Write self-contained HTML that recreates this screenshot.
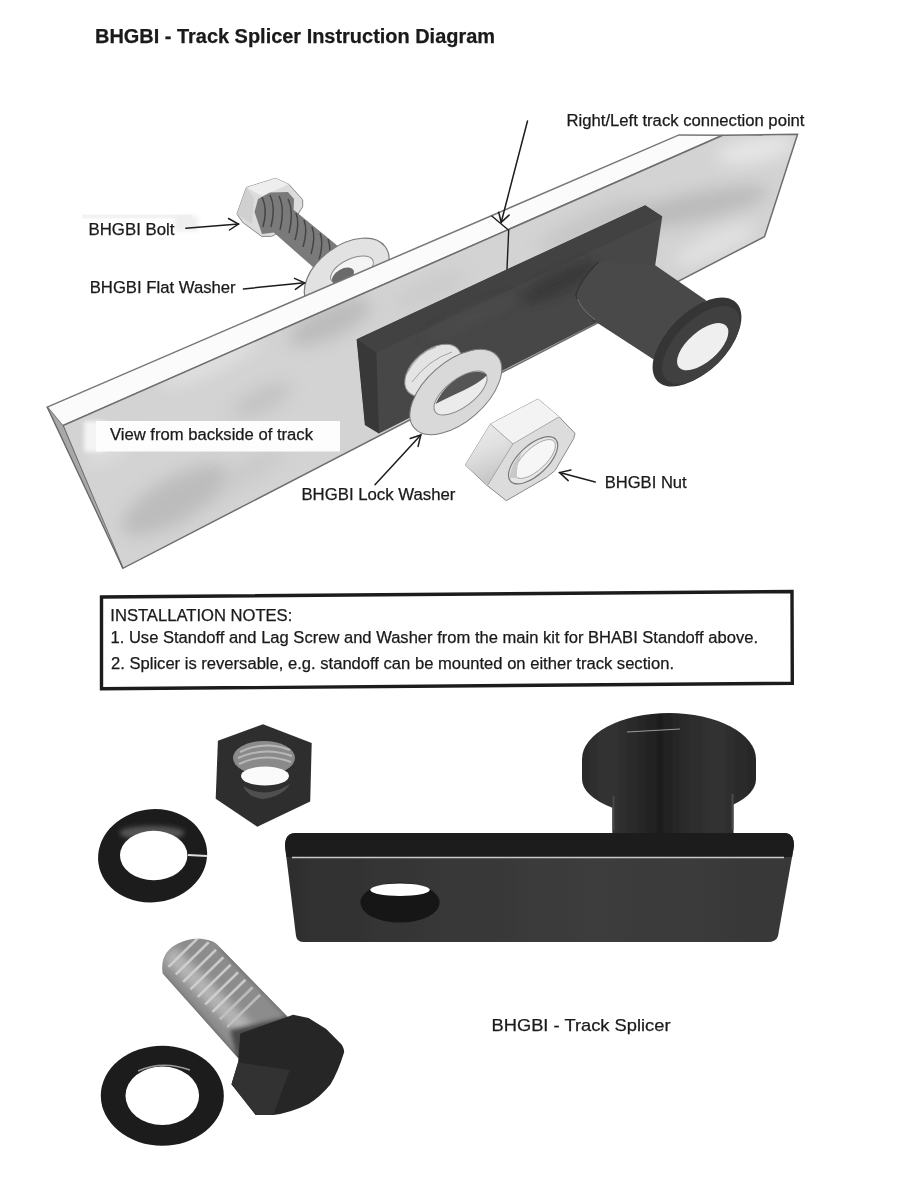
<!DOCTYPE html>
<html><head><meta charset="utf-8">
<style>
html,body{margin:0;padding:0;background:#fff;}
body{width:908px;height:1184px;overflow:hidden;position:relative;}
svg{position:absolute;left:0;top:0;}
text{font-family:"Liberation Sans",sans-serif;fill:#1a1a1a;stroke:#1a1a1a;stroke-width:0.25px;}
</style></head><body>
<svg width="908" height="1184" viewBox="0 0 908 1184">
<defs>
  <filter id="soft2" x="0" y="0" width="908" height="1184" filterUnits="userSpaceOnUse"><feGaussianBlur stdDeviation="0.45"/></filter>
  <filter id="soft" x="-5%" y="-5%" width="110%" height="110%"><feGaussianBlur stdDeviation="0.6"/></filter>
  <filter id="b1" x="-20%" y="-20%" width="140%" height="140%"><feGaussianBlur stdDeviation="0.7"/></filter>
  <filter id="b2" x="-50%" y="-50%" width="200%" height="200%"><feGaussianBlur stdDeviation="2"/></filter>
  <filter id="b4" x="-50%" y="-50%" width="200%" height="200%"><feGaussianBlur stdDeviation="4"/></filter>
  <filter id="b8" x="-50%" y="-50%" width="200%" height="200%"><feGaussianBlur stdDeviation="8"/></filter>

<clipPath id="faceClip"><polygon points="63.0,425.6 722.7,135.3 797.6,134.2 764.5,236.7 122.9,568.3"/></clipPath>
<clipPath id="barClip"><polygon points="356.6,339.2 645.2,205.2 662.2,216.6 655.2,265.2 598.4,321.7 378.9,433.4 364.9,425.1"/></clipPath>
<clipPath id="photoBarClip"><path d="M296,833 L786,833 Q794,834 794,846 L778,936 Q776,942 768,942 L304,942 Q297,942 296,936 L285,846 Q285,833 296,833 Z"/></clipPath>
<clipPath id="flangeClip"><ellipse cx="669" cy="759" rx="87" ry="46"/><ellipse cx="669" cy="779" rx="87" ry="38"/><rect x="582" y="759" width="174" height="20"/><rect x="612.3" y="790" width="121.2" height="50"/></clipPath>
<linearGradient id="nutLeftGrad" x1="0" y1="0" x2="0.3" y2="1"><stop offset="0" stop-color="#ececec"/><stop offset="0.5" stop-color="#e0e0e0"/><stop offset="1" stop-color="#c6c6c6"/></linearGradient>
<linearGradient id="barGrad" x1="0" y1="0" x2="1" y2="0"><stop offset="0" stop-color="#2e2e2e"/><stop offset="0.25" stop-color="#363636"/><stop offset="0.6" stop-color="#3c3c3c"/><stop offset="1" stop-color="#383838"/></linearGradient>
<linearGradient id="flGrad" x1="582" y1="0" x2="756" y2="0" gradientUnits="userSpaceOnUse"><stop offset="0" stop-color="#2a2a2a"/><stop offset="0.15" stop-color="#333"/><stop offset="0.3" stop-color="#2a2a2a"/><stop offset="0.45" stop-color="#1e1e1e"/><stop offset="0.6" stop-color="#2c2c2c"/><stop offset="0.78" stop-color="#323232"/><stop offset="1" stop-color="#262626"/></linearGradient>
</defs>
<g filter="url(#soft2)">
<g id="bolt">
  <polygon points="236.9,214 246.4,187.4 275.6,178.3 288.8,184.3 302.7,199.7 302.7,206.7 290.4,226.5 271.6,236.4 261.7,236.4 242.8,222.5" fill="#dcdcdc" stroke="#8a8a8a" stroke-width="1"/>
  <polygon points="246.4,187.4 275.6,178.3 288.8,184.3 262,196" fill="#eeeeee"/>
  <polygon points="236.9,214 246.4,187.4 254,198 252,224" fill="#d0d0d0"/>
  <polygon points="254.5,212 258,199 270,192.5 288,192 294,199 293.6,209.8 337.2,245.5 314.4,268.3 273.8,232.6 262,234" fill="#7a7a7a"/>
  <g stroke="#404040" stroke-width="1.5" fill="none" opacity="0.9">
    <path d="M262,197 q6,12 1,30"/><path d="M270,195 q6,12 1,32"/><path d="M279,196 q6,12 1,34"/>
    <path d="M288,199 q6,12 1,34"/><path d="M296,213 q4,10 -1,27"/><path d="M304,220 q4,10 -1,27"/><path d="M312,227 q4,10 -1,27"/>
    <path d="M320,233 q4,10 -1,27"/><path d="M328,239 q4,10 -1,25"/>
  </g>
</g>
<g id="washer">
<ellipse cx="346.7" cy="275.0" rx="47.8" ry="29.4" transform="rotate(-36.2 346.7 275.0)" fill="#e2e2e2" stroke="#7a7a7a" stroke-width="1.2"/>
<ellipse cx="352.0" cy="270.0" rx="23.0" ry="11.0" transform="rotate(-25.0 352.0 270.0)" fill="#f4f4f4" stroke="#8a8a8a" stroke-width="1"/>
<ellipse cx="343.0" cy="276.0" rx="12.0" ry="7.0" transform="rotate(-30.0 343.0 276.0)" fill="#6a6a6a" />
</g>
<g id="track">
<polygon points="47.2,407.1 679.0,134.9 722.7,135.3 62.6,425.8" fill="#fbfbfb" stroke="#777" stroke-width="1.5"/>
<polygon points="63.0,425.6 722.7,135.3 797.6,134.2 764.5,236.7 122.9,568.3" fill="#d3d3d3"/>
<g clip-path="url(#faceClip)">
<ellipse cx="330.0" cy="322.0" rx="45.0" ry="16.0" transform="rotate(-25.0 330.0 322.0)" fill="#b9b9b9" filter="url(#b8)" opacity="0.90"/>
<ellipse cx="175.0" cy="500.0" rx="60.0" ry="22.0" transform="rotate(-30.0 175.0 500.0)" fill="#bababa" filter="url(#b8)" opacity="0.90"/>
<ellipse cx="262.0" cy="400.0" rx="32.0" ry="12.0" transform="rotate(-25.0 262.0 400.0)" fill="#c0c0c0" filter="url(#b8)" opacity="0.80"/>
<ellipse cx="210.0" cy="362.0" rx="55.0" ry="12.0" transform="rotate(-25.0 210.0 362.0)" fill="#e2e2e2" filter="url(#b8)" opacity="0.80"/>
<ellipse cx="110.0" cy="450.0" rx="30.0" ry="10.0" transform="rotate(-30.0 110.0 450.0)" fill="#e0e0e0" filter="url(#b8)" opacity="0.70"/>
<ellipse cx="690.0" cy="208.0" rx="80.0" ry="14.0" transform="rotate(-12.0 690.0 208.0)" fill="#b8b8b8" filter="url(#b8)" opacity="0.90"/>
<ellipse cx="590.0" cy="226.0" rx="55.0" ry="12.0" transform="rotate(-25.0 590.0 226.0)" fill="#c2c2c2" filter="url(#b8)" opacity="0.80"/>
<ellipse cx="755.0" cy="150.0" rx="40.0" ry="12.0" transform="rotate(-10.0 755.0 150.0)" fill="#e6e6e6" filter="url(#b8)" opacity="1.00"/>
<ellipse cx="715.0" cy="245.0" rx="45.0" ry="12.0" transform="rotate(-25.0 715.0 245.0)" fill="#e2e2e2" filter="url(#b8)" opacity="0.90"/>
<ellipse cx="430.0" cy="290.0" rx="40.0" ry="10.0" transform="rotate(-25.0 430.0 290.0)" fill="#c8c8c8" filter="url(#b8)" opacity="0.70"/>
<ellipse cx="250.0" cy="470.0" rx="40.0" ry="10.0" transform="rotate(-30.0 250.0 470.0)" fill="#c6c6c6" filter="url(#b8)" opacity="0.70"/>
</g>
<polygon points="63.0,425.6 722.7,135.3 797.6,134.2 764.5,236.7 122.9,568.3" fill="none" stroke="#6e6e6e" stroke-width="1.5"/>
<polygon points="47.2,407.1 62.6,425.8 122.9,568.3" fill="#a8a8a8"/>
<line x1="47.2" y1="407.1" x2="122.9" y2="568.3" stroke="#666" stroke-width="1.3"/>
<polyline points="491.5,215.8 508.7,230.2 506.9,271.5" fill="none" stroke="#1c1c1c" stroke-width="1.4"/>
</g>
<rect x="84" y="421" width="20" height="31" fill="#f8f8f8" filter="url(#b2)" opacity="0.9"/>
<rect x="96" y="421" width="244" height="30.5" fill="#fdfdfd" filter="url(#b1)"/>
<rect x="82" y="214.5" width="110" height="4" fill="#f3f3f3" filter="url(#b1)"/>
<rect x="174" y="216" width="24" height="15" fill="#ebebeb" filter="url(#b2)" opacity="0.8"/>
<g id="bar">
<polygon points="356.6,339.2 645.2,205.2 662.2,216.6 655.2,265.2 598.4,321.7 378.9,433.4 364.9,425.1" fill="#464646"/>
<g clip-path="url(#barClip)">
<polygon points="356.6,339.2 645.2,205.2 664.2,216.6 376.4,352.4" fill="#424242"/>
<polygon points="356.6,339.2 376.4,352.4 378.9,433.4 364.9,425.1" fill="#383838"/>
<ellipse cx="470.0" cy="318.0" rx="50.0" ry="8.0" transform="rotate(-25.0 470.0 318.0)" fill="#505050" filter="url(#b4)" opacity="0.6"/>
<ellipse cx="560.0" cy="282.0" rx="40.0" ry="10.0" transform="rotate(-27.0 560.0 282.0)" fill="#363636" filter="url(#b4)" opacity="0.7"/>
</g>
<path d="M598.8,261.7 L655.2,265.2 L706.3,300.5 L655.2,360.4 L595.2,321.6 Q578,305 575.9,295.2 Q580,280 598.8,261.7 Z" fill="#4a4a4a"/>
<path d="M598.8,261.7 Q580,280 575.9,295.2 Q578,305 595.2,321.6" fill="none" stroke="#343434" stroke-width="1.5"/>
<path d="M577.5,299 Q582,310 595,320" fill="none" stroke="#6a6a6a" stroke-width="1.2"/>
<ellipse cx="697.0" cy="342.1" rx="55.6" ry="29.4" transform="rotate(-45.1 697.0 342.1)" fill="#363636" />
<ellipse cx="701.0" cy="345.0" rx="49.0" ry="25.0" transform="rotate(-45.0 701.0 345.0)" fill="#404040" />
<ellipse cx="702.7" cy="346.7" rx="31.5" ry="15.0" transform="rotate(-41.2 702.7 346.7)" fill="#efefef" />
</g>
<g id="lockwasher">
<ellipse cx="433.1" cy="370.4" rx="32.9" ry="20.1" transform="rotate(-39.7 433.1 370.4)" fill="#e4e4e4" stroke="#8a8a8a" stroke-width="1"/>
<path d="M406,375 Q418,352 436,347" fill="none" stroke="#9a9a9a" stroke-width="0.9"/>
<path d="M412,382 Q428,360 452,352" fill="none" stroke="#9a9a9a" stroke-width="0.9"/>
<ellipse cx="455.8" cy="392.0" rx="55.0" ry="30.0" transform="rotate(-41.1 455.8 392.0)" fill="#d9d9d9" stroke="#7a7a7a" stroke-width="1"/>
<ellipse cx="460.5" cy="393.0" rx="31.5" ry="14.0" transform="rotate(-37.0 460.5 393.0)" fill="#ebebeb" stroke="#8a8a8a" stroke-width="1"/>
<path d="M435.5,404 Q445,383 466,374 Q480,369 487,375 Q480,383 458,393 Q445,399 435.5,404 Z" fill="#555"/>
</g>
<g id="nut">
<polygon points="465.3,465.0 490.4,424.1 538.0,399.0 559.1,416.8 575.0,433.3 573.7,438.6 555.2,470.3 547.2,476.9 506.3,500.7 486.4,484.9" fill="#dcdcdc" stroke="#8a8a8a" stroke-width="1"/>
<polygon points="490.4,424.1 538.0,399.0 559.1,416.8 512.9,443.9" fill="#f3f3f3"/>
<polygon points="465.3,465.0 490.4,424.1 512.9,443.9 487.8,484.9" fill="url(#nutLeftGrad)"/>
<polyline points="490.4,424.1 512.9,443.9 559.1,416.8" fill="none" stroke="#999" stroke-width="0.8"/>
<line x1="512.9" y1="443.9" x2="487.8" y2="484.9" stroke="#999" stroke-width="0.8"/>
<ellipse cx="533.1" cy="460.3" rx="30.8" ry="14.6" transform="rotate(-43.1 533.1 460.3)" fill="#e6e6e6" stroke="#7a7a7a" stroke-width="1.2"/>
<ellipse cx="535.0" cy="459.0" rx="26.0" ry="11.0" transform="rotate(-43.0 535.0 459.0)" fill="#f6f6f6" stroke="#9a9a9a" stroke-width="0.8"/>
<path d="M509,478 Q512,462 522,452 Q516,466 517,478 Z" fill="#c8c8c8" filter="url(#b1)"/>
</g>
</g>
<g stroke="#1c1c1c" stroke-width="1.5" fill="none" stroke-linecap="round">
  <line x1="185.8" y1="228.2" x2="238.5" y2="224"/>
  <polyline points="228.5,218.5 238.5,224 229.5,230"/>
  <line x1="243.4" y1="288.9" x2="304.6" y2="282.8"/>
  <polyline points="294.5,278.4 304.6,282.8 295.4,289.4"/>
  <line x1="527.5" y1="121" x2="501.2" y2="222.3"/>
  <polyline points="498.7,212.2 501.2,222.3 509.1,215.1"/>
  <line x1="375" y1="484.8" x2="420.8" y2="435"/>
  <polyline points="410.2,438.5 420.8,435 418.1,446.4"/>
  <line x1="595.2" y1="482" x2="559.6" y2="472.6"/>
  <polyline points="570.9,470.1 559.6,472.6 568.2,480.6"/>
</g>
<polygon points="101.5,597 792,591.5 792.3,683.3 101.5,688.8" fill="none" stroke="#1c1c1c" stroke-width="3.4"/>
<g id="photo" filter="url(#soft)">
<polygon points="263,724.3 311.7,742.9 310.2,801.6 257.3,826.7 215.7,798.8 217.9,740.8" fill="#2e2e2e"/>
<ellipse cx="264.0" cy="758.0" rx="31.0" ry="17.0" transform="rotate(0.0 264.0 758.0)" fill="#8a8a8a" />
<g stroke="#b8b8b8" stroke-width="2" fill="none"><path d="M240,752 Q264,740 290,750"/><path d="M238,758 Q264,746 292,756"/><path d="M239,764 Q264,752 291,762"/></g>
<path d="M243,786 Q265,800 290,784 Q282,797 262,799 Q248,797 243,786 Z" fill="#505050" filter="url(#b1)"/>
<ellipse cx="265.0" cy="776.0" rx="24.0" ry="9.5" transform="rotate(0.0 265.0 776.0)" fill="#fafafa" />
<ellipse cx="152.6" cy="855.8" rx="54.7" ry="46.5" transform="rotate(-8.0 152.6 855.8)" fill="#1f1f1f" />
<ellipse cx="152.0" cy="833.0" rx="32.0" ry="7.0" transform="rotate(0.0 152.0 833.0)" fill="#555555" filter="url(#b2)"/>
<ellipse cx="153.7" cy="855.5" rx="33.7" ry="24.7" transform="rotate(0.0 153.7 855.5)" fill="#fff" />
<line x1="188" y1="855" x2="207" y2="856" stroke="#ddd" stroke-width="2"/>
<g clip-path="url(#flangeClip)">
<rect x="570" y="700" width="200" height="150" fill="url(#flGrad)"/>
</g>
<line x1="627" y1="732" x2="680" y2="729" stroke="#999" stroke-width="1.2"/>
<line x1="613.5" y1="796" x2="613.5" y2="830" stroke="#4a4a4a" stroke-width="2"/>
<line x1="732.5" y1="794" x2="732.5" y2="830" stroke="#4a4a4a" stroke-width="2"/>
<g clip-path="url(#photoBarClip)">
<rect x="280" y="830" width="520" height="115" fill="url(#barGrad)"/>
<rect x="280" y="830" width="520" height="27" fill="#1e1e1e"/>
</g>
<line x1="292" y1="857.5" x2="784" y2="857.5" stroke="#c8c8c8" stroke-width="1.6"/>
<ellipse cx="400.0" cy="902.5" rx="39.6" ry="20.0" transform="rotate(0.0 400.0 902.5)" fill="#151515" />
<ellipse cx="400.0" cy="889.8" rx="29.8" ry="6.2" transform="rotate(0.0 400.0 889.8)" fill="#fff" />
<clipPath id="shaftClip"><path d="M162.7,973.5 C160,958 168,948 178.1,943.5 C188,938 200,937.5 210,940.5 C215,942 218,945 219.8,947.3 L287.6,1016.7 L238.3,1058.3 Z"/></clipPath>
<path d="M162.7,973.5 C160,958 168,948 178.1,943.5 C188,938 200,937.5 210,940.5 C215,942 218,945 219.8,947.3 L287.6,1016.7 L238.3,1058.3 Z" fill="#8c8c8c"/>
<g clip-path="url(#shaftClip)">
<line x1="168" y1="952" x2="255" y2="1040" stroke="#b4b4b4" stroke-width="18" filter="url(#b4)"/>
<line x1="160" y1="975" x2="238" y2="1060" stroke="#6a6a6a" stroke-width="6" filter="url(#b2)"/>
<line x1="222" y1="947" x2="290" y2="1017" stroke="#707070" stroke-width="6" filter="url(#b2)"/>
<polygon points="230,1030 287.6,1016.7 300,1040 240,1070" fill="#4a4a4a" filter="url(#b2)"/>
<line x1="168.5" y1="966.9" x2="201.4" y2="934.7" stroke="#d4d4d4" stroke-width="2.6" opacity="0.85"/>
<line x1="175.8" y1="974.4" x2="208.7" y2="942.2" stroke="#d4d4d4" stroke-width="2.6" opacity="0.85"/>
<line x1="183.2" y1="981.9" x2="216.0" y2="949.7" stroke="#d4d4d4" stroke-width="2.6" opacity="0.85"/>
<line x1="190.5" y1="989.4" x2="223.4" y2="957.3" stroke="#d4d4d4" stroke-width="2.6" opacity="0.85"/>
<line x1="197.8" y1="996.9" x2="230.7" y2="964.8" stroke="#d4d4d4" stroke-width="2.6" opacity="0.85"/>
<line x1="205.2" y1="1004.4" x2="238.1" y2="972.3" stroke="#d4d4d4" stroke-width="2.6" opacity="0.85"/>
<line x1="212.5" y1="1011.9" x2="245.4" y2="979.8" stroke="#d4d4d4" stroke-width="2.6" opacity="0.85"/>
<line x1="219.9" y1="1019.4" x2="252.7" y2="987.3" stroke="#c4c4c4" stroke-width="2.6" opacity="0.85"/>
<line x1="227.2" y1="1026.9" x2="260.1" y2="994.8" stroke="#c4c4c4" stroke-width="2.6" opacity="0.85"/>
</g>
<path d="M240.3,1033.5 L293.2,1014.8 L308.6,1018.1 L326.2,1029.1 L341.6,1044.5 Q345,1050 343.8,1053.3 Q338,1072 330.6,1084.2 Q320,1097 308.6,1104 Q290,1113 273.3,1115 L255.7,1115 L231.5,1084.2 L238.1,1062.2 Z" fill="#262626"/>
<path d="M231.5,1084.2 L238.1,1062.2 L290,1070 L273.3,1115 L255.7,1115 Z" fill="#303030"/>
<ellipse cx="162.3" cy="1095.7" rx="61.5" ry="50.0" transform="rotate(0.0 162.3 1095.7)" fill="#1c1c1c" />
<ellipse cx="162.3" cy="1095.7" rx="36.8" ry="29.3" transform="rotate(0.0 162.3 1095.7)" fill="#fff" />
<path d="M138,1071 Q162,1060 190,1070" stroke="#999" stroke-width="1.5" fill="none"/>
</g>
<text x="95" y="43.2" font-size="20" font-weight="bold" textLength="400" lengthAdjust="spacingAndGlyphs">BHGBI - Track Splicer Instruction Diagram</text>
<text x="88.5" y="234.7" font-size="16" textLength="86" lengthAdjust="spacingAndGlyphs">BHGBI Bolt</text>
<text x="89.7" y="293.3" font-size="16" textLength="146" lengthAdjust="spacingAndGlyphs">BHGBI Flat Washer</text>
<text x="566.5" y="126.2" font-size="16" textLength="238" lengthAdjust="spacingAndGlyphs">Right/Left track connection point</text>
<text x="110" y="440.3" font-size="16" textLength="203" lengthAdjust="spacingAndGlyphs">View from backside of track</text>
<text x="301.4" y="500.3" font-size="16" textLength="154" lengthAdjust="spacingAndGlyphs">BHGBI Lock Washer</text>
<text x="604.7" y="487.7" font-size="16" textLength="82" lengthAdjust="spacingAndGlyphs">BHGBI Nut</text>
<text x="110.3" y="620.5" font-size="16" textLength="182" lengthAdjust="spacingAndGlyphs">INSTALLATION NOTES:</text>
<text x="110.5" y="642.9" font-size="16" textLength="647.5" lengthAdjust="spacingAndGlyphs">1. Use Standoff and Lag Screw and Washer from the main kit for BHABI Standoff above.</text>
<text x="111" y="669" font-size="16" textLength="563" lengthAdjust="spacingAndGlyphs">2. Splicer is reversable, e.g. standoff can be mounted on either track section.</text>
<text x="491.5" y="1031.3" font-size="17" textLength="179" lengthAdjust="spacingAndGlyphs">BHGBI - Track Splicer</text>
</svg>
</body></html>
